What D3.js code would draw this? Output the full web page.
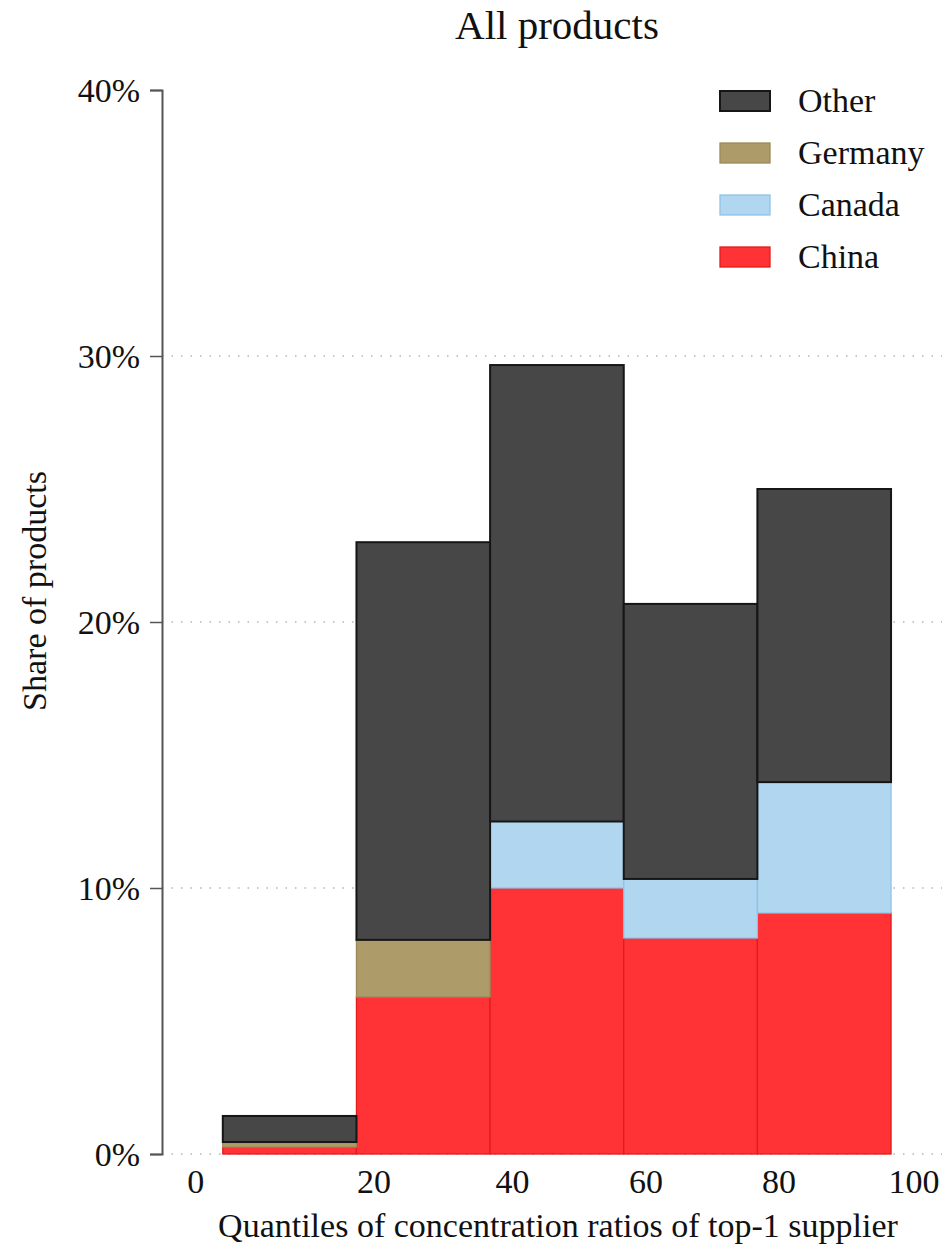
<!DOCTYPE html>
<html>
<head>
<meta charset="utf-8">
<script src="https://cdn.jsdelivr.net/npm/d3@7"></script>
<style>
  html, body { margin: 0; padding: 0; background: #fff; }
  svg { display: block; font-family: "Liberation Serif", "DejaVu Serif", serif; }
</style>
</head>
<body>
<svg id="chart" width="946" height="1249"></svg>
<script>
// Bin left edges on the concentration-ratio axis and the common bin width
const binStart = [-2.4, 17.4, 37.2, 57.0, 76.8];
const binWidth = 19.8;

// Share of products (%) by top-1 supplier, stacked bottom to top
const china   = [0.26, 5.9, 10.0, 8.12, 9.06];
const canada  = [0.0, 0.0, 2.5, 2.22, 4.92];
const germany = [0.19, 2.15, 0.0, 0.0, 0.0];
const other   = [0.98, 14.95, 17.16, 10.34, 11.02];

const seriesNames = ["China", "Canada", "Germany", "Other"];
const legendOrder = ["Other", "Germany", "Canada", "China"];
const fills   = { China: "#ff3336", Canada: "#b0d6f0", Germany: "#ad9c69", Other: "#474747" };
const strokes = { China: "#e01c1f", Canada: "#8fc4e8", Germany: "#9a8a58", Other: "#161616" };

const yTicks = [0, 10, 20, 30, 40];
const yGrid = [0, 10, 20, 30];
// x tick labels and where they sit on the axis
const xTickLabels = ["0", "20", "40", "60", "80", "100"];
const xTickAt = [-6.4, 20, 40.5, 60.3, 80, 100];

const svg = d3.select("#chart");

const x = d3.scaleLinear().domain([0, 100]).range([239, 914]);
const y = d3.scaleLinear().domain([0, 40]).range([1154, 90]);

const rows = binStart.map((s, i) => ({
  start: s, China: china[i], Canada: canada[i], Germany: germany[i], Other: other[i]
}));
const stacked = d3.stack().keys(seriesNames)(rows);

// dotted gridlines
svg.append("g")
  .selectAll("line")
  .data(yGrid)
  .join("line")
  .attr("x1", 162).attr("x2", 942)
  .attr("y1", d => y(d)).attr("y2", d => y(d))
  .attr("stroke", "#b5b5b5")
  .attr("stroke-width", 1.4)
  .attr("stroke-dasharray", "1.5,8");

// stacked bars
const layers = svg.append("g")
  .selectAll("g")
  .data(stacked)
  .join("g")
  .attr("fill", d => fills[d.key])
  .attr("stroke", d => strokes[d.key])
  .attr("stroke-width", d => d.key === "Other" ? 2 : 1.3);

layers.selectAll("rect")
  .data(d => d.filter(s => s[1] - s[0] > 0))
  .join("rect")
  .attr("x", d => x(d.data.start))
  .attr("width", x(binWidth) - x(0))
  .attr("y", d => y(d[1]))
  .attr("height", d => y(d[0]) - y(d[1]));

// y axis
const yAxis = d3.axisLeft(y)
  .tickValues(yTicks)
  .tickFormat(d => d + "%")
  .tickSize(12)
  .tickPadding(10);
const gy = svg.append("g").attr("transform", "translate(162,0)").call(yAxis);
gy.select(".domain").attr("stroke", "#555").attr("stroke-width", 2);
gy.selectAll(".tick line").attr("stroke", "#555").attr("stroke-width", 1.5);
gy.selectAll(".tick text")
  .attr("font-size", 34)
  .attr("fill", "#111")
  .attr("font-family", "Liberation Serif, serif")
  .attr("dy", "0.34em");

// x tick labels
svg.append("g")
  .selectAll("text")
  .data(xTickLabels)
  .join("text")
  .attr("x", (d, i) => x(xTickAt[i]))
  .attr("y", 1193)
  .attr("text-anchor", "middle")
  .attr("font-size", 34)
  .attr("fill", "#111")
  .text(d => d);

// titles
svg.append("text")
  .attr("x", 557).attr("y", 39)
  .attr("text-anchor", "middle")
  .attr("font-size", 41)
  .attr("fill", "#111")
  .text("All products");

svg.append("text")
  .attr("x", 558).attr("y", 1237)
  .attr("text-anchor", "middle")
  .attr("font-size", 34)
  .attr("fill", "#111")
  .text("Quantiles of concentration ratios of top-1 supplier");

svg.append("text")
  .attr("transform", "translate(46,591) rotate(-90)")
  .attr("text-anchor", "middle")
  .attr("font-size", 34)
  .attr("fill", "#111")
  .text("Share of products");

// legend
const legend = svg.append("g")
  .selectAll("g")
  .data(legendOrder)
  .join("g")
  .attr("transform", (d, i) => `translate(720,${91 + i * 52})`);
legend.append("rect")
  .attr("width", 50).attr("height", 20)
  .attr("fill", d => fills[d])
  .attr("stroke", d => strokes[d])
  .attr("stroke-width", d => d === "Other" ? 2 : 1.3);
legend.append("text")
  .attr("x", 78).attr("y", 21)
  .attr("font-size", 34)
  .attr("fill", "#111")
  .text(d => d);
</script>
</body>
</html>
